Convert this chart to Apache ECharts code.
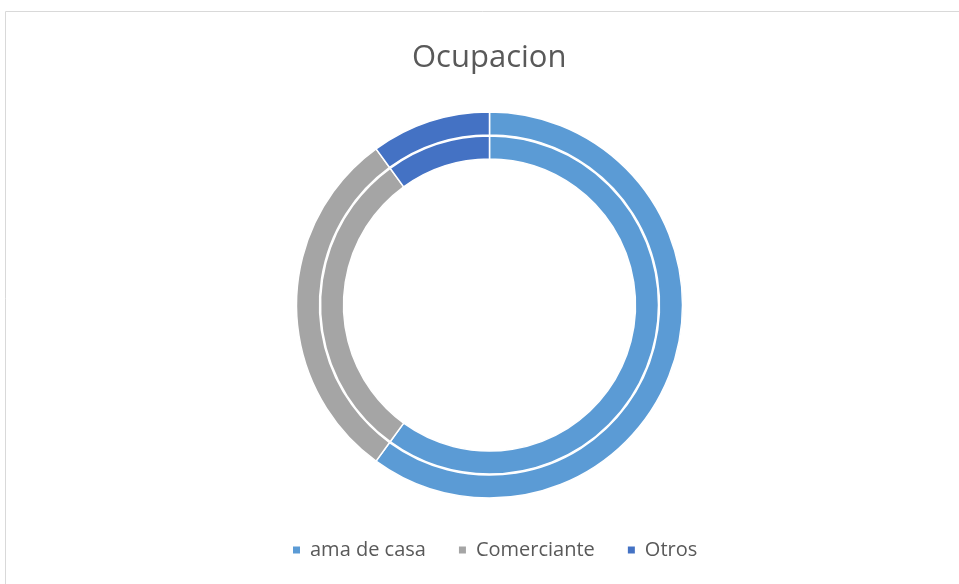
<!DOCTYPE html>
<html>
<head>
<meta charset="utf-8">
<script src="https://cdn.jsdelivr.net/npm/echarts@6/dist/echarts.min.js"></script>
<style>
html,body{margin:0;padding:0;background:#fff;}
#ocupacion_pie{width:959px;height:584px;}
</style>
</head>
<body>
<div id="ocupacion_pie"></div>
<script>
var categorias=['ama de casa','Comerciante','Otros'];
var valores=[60,30,10];
var colores=['#5B9BD5','#A5A5A5','#4472C4'];

var datos=categorias.map(function(c,i){
    return {name:c,value:valores[i]};
});

var ocupacion_pie=echarts.init(document.getElementById('ocupacion_pie'));
var ocupacion_option={
    color:colores,
    title:{
        text:'Ocupacion',
        left:407,
        top:38,
        textStyle:{
            fontFamily:'Open Sans',
            fontSize:31,
            fontWeight:'normal',
            color:'#595959'
        }
    },
    legend:{
        bottom:19,
        left:286,
        icon:'rect',
        itemWidth:9,
        itemHeight:9,
        itemGap:31,
        textStyle:{
            fontFamily:'Open Sans',
            fontSize:20,
            color:'#595959',
            padding:[0,0,0,4]
        },
        data:categorias
    },
    graphic:[{
        type:'rect',
        shape:{x:5.5,y:11.5,width:1000,height:1000},
        style:{fill:'none',stroke:'#d9d9d9',lineWidth:1}
    }],
    series:[
        {
            name:'externo',
            type:'pie',
            center:[489.5,305],
            radius:[170,193],
            label:{show:false},
            labelLine:{show:false},
            silent:true,
            itemStyle:{borderColor:'#fff',borderWidth:1.5},
            data:datos
        },
        {
            name:'interno',
            type:'pie',
            center:[489.5,305],
            radius:[146,169],
            label:{show:false},
            labelLine:{show:false},
            silent:true,
            itemStyle:{borderColor:'#fff',borderWidth:1.5},
            data:datos
        }
    ]
};
ocupacion_pie.setOption(ocupacion_option);
</script>
</body>
</html>
